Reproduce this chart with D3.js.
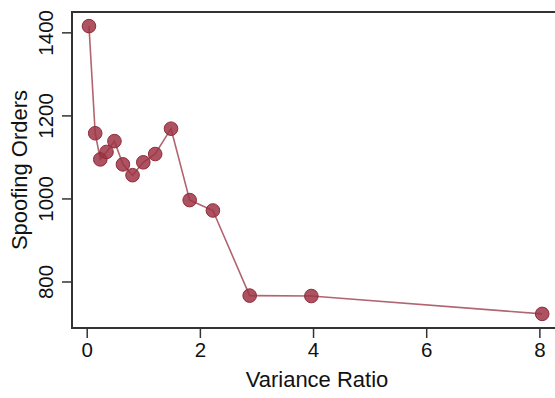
<!DOCTYPE html>
<html>
<head>
<meta charset="utf-8">
<script src="https://cdn.jsdelivr.net/npm/d3@7"></script>
<style>
  body { margin: 0; background: #fff; }
  svg { display: block; font-family: "Liberation Sans", Arial, sans-serif; }
</style>
</head>
<body>
<div id="chart"></div>
<script>
// values
const varianceRatio = [0.04, 0.15, 0.24, 0.35, 0.49, 0.64, 0.81, 1.0, 1.21, 1.49, 1.82, 2.23, 2.88, 3.97, 8.05];
const spoofingOrders = [1415, 1157, 1094, 1112, 1138, 1082, 1056, 1087, 1107, 1168, 996, 971, 766, 765, 722];
const xTicks = [0, 2, 4, 6, 8];
const yTicks = [800, 1000, 1200, 1400];

const W = 555, H = 398;
const margin = { top: 12, right: -7, bottom: 70, left: 72 };
const width = W - margin.left - margin.right;
const height = H - margin.top - margin.bottom;

const x = d3.scaleLinear().domain([-0.26, 8.4]).range([0, width]);
const y = d3.scaleLinear().domain([688, 1449]).range([height, 0]);

const svg = d3.select("#chart")
    .append("svg")
    .attr("width", W)
    .attr("height", H);

const g = svg.append("g")
    .attr("transform", `translate(${margin.left}, ${margin.top})`);

// frame
g.append("rect")
    .attr("x", 0).attr("y", 0)
    .attr("width", width).attr("height", height)
    .attr("fill", "none")
    .attr("stroke", "#333")
    .attr("stroke-width", 2);

const xAxis = d3.axisBottom(x).tickValues(xTicks).tickSize(10).tickPadding(4).tickFormat(d3.format("d"));
const yAxis = d3.axisLeft(y).tickValues(yTicks).tickSize(10).tickPadding(4).tickFormat(d3.format("d"));

const gx = g.append("g")
    .attr("transform", `translate(0, ${height})`)
    .call(xAxis);
gx.select(".domain").remove();
gx.selectAll("line").attr("stroke", "#333").attr("stroke-width", 1.5);
gx.selectAll("text").attr("font-size", 20.5).attr("fill", "#111");

const gy = g.append("g").call(yAxis);
gy.select(".domain").remove();
gy.selectAll("line").attr("stroke", "#333").attr("stroke-width", 1.5);
gy.selectAll("text")
    .attr("font-size", 20.5)
    .attr("fill", "#111")
    .attr("text-anchor", "middle")
    .attr("dy", 0)
    .attr("x", 0)
    .attr("y", 0)
    .attr("transform", "translate(-19, 0) rotate(-90)");

// axis titles
svg.append("text")
    .attr("x", 317)
    .attr("y", 387)
    .attr("text-anchor", "middle")
    .attr("font-size", 22)
    .attr("fill", "#111")
    .text("Variance Ratio");

svg.append("text")
    .attr("transform", "translate(27, 170) rotate(-90)")
    .attr("text-anchor", "middle")
    .attr("font-size", 22)
    .attr("fill", "#111")
    .text("Spoofing Orders");

const points = varianceRatio.map((v, i) => ({ x: v, y: spoofingOrders[i] }));

const line = d3.line().x(d => x(d.x)).y(d => y(d.y));

g.append("path")
    .datum(points)
    .attr("d", line)
    .attr("fill", "none")
    .attr("stroke", "#a85461")
    .attr("stroke-opacity", 0.9)
    .attr("stroke-width", 1.6);

g.selectAll(".dot")
    .data(points)
    .join("circle")
    .attr("class", "dot")
    .attr("cx", d => x(d.x))
    .attr("cy", d => y(d.y))
    .attr("r", 6.8)
    .attr("fill", "#9d3444")
    .attr("fill-opacity", 0.85)
    .attr("stroke", "#8f2c3a")
    .attr("stroke-width", 1);
</script>
</body>
</html>
